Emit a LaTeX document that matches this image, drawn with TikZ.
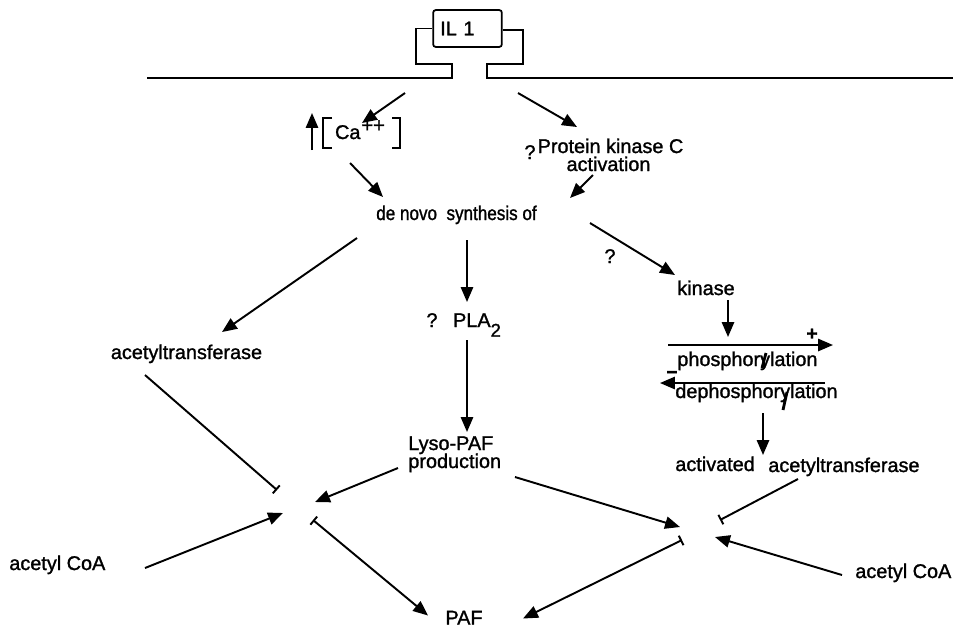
\documentclass[tikz,border=0pt]{standalone}
\usepackage{fontspec}
\setmainfont{Liberation Sans}[FakeBold=1.3]
\usetikzlibrary{arrows.meta,calc}
\begin{document}
\begin{tikzpicture}[x=0.02cm,y=-0.02cm,
  lbl/.style={inner sep=0pt, anchor=base, font=\fontsize{11.3}{13}\selectfont},
  lblw/.style={lbl, anchor=base west},
  sign/.style={lbl, text height=2pt, text depth=0pt, font=\bfseries\fontsize{11}{11}\selectfont},
  wire/.style={line width=1pt, line join=miter},
  arr/.style={line width=1.1pt, -{Triangle[length=8.5pt,width=7pt]}},
  inh/.style={line width=1.1pt, -{Bar[width=6pt,line width=1.1pt]}},
  inharr/.style={line width=1.1pt, {Bar[width=6pt,line width=1.1pt]}-{Triangle[length=8.5pt,width=7pt]}},
  slashstroke/.style={line width=1.6pt}]
\useasboundingbox (0,0) rectangle (953,627);

% receptor in the membrane
\node[draw, line width=1pt, rounded corners=1.5pt, minimum width=39.1pt, minimum height=21pt,
      inner xsep=4pt, text width=31pt, align=left, font=\fontsize{11.3}{13}\selectfont]
  (il) at (467.5,28.5) {IL 1};
\draw[wire] (147,78) -- (452,78) -- (452,64) -- (416,64) -- (416,28.5) -- (il.west |- 0,28.5);
\draw[wire] (il.east |- 0,30) -- (523,30) -- (523,64) -- (487,64) -- (487,78) -- (953,78);

% labels
\node[lbl] (ca) at (360,139) {Ca\kern0.5pt\raisebox{4pt}{\fontsize{11.5}{11}\selectfont ++}};
\node[lbl] (q1) at (530,159) {?};
\node[lbl] (pkc1) at (610.5,153) {Protein kinase C};
\node[lbl] (pkc2) at (608.5,171) {activation};
\node[lbl] (denovo) at (456.5,220) {\scalebox{0.86}[1]{de novo\ \ synthesis of}};
\node[lbl] (acl) at (186.5,359) {acetyltransferase};
\node[lbl] (q2) at (610,263) {?};
\node[lbl] (kinase) at (706,295) {kinase};
\node[lbl] (q3) at (432,327) {?};
\node[lbl] (pla) at (477,327) {PLA\raisebox{-5.5pt}{\fontsize{10.5}{11}\selectfont 2}};
\node[lblw] (lyso1) at (408,450) {Lyso-PAF};
\node[lblw] (lyso2) at (408,468) {production};
\node[lblw] (phos) at (677,366) {phosphorylation};
\node[lblw] (dephos) at (675,398) {dephosphorylation};
\node[sign] (plus) at (812,340) {+};
\node[sign] (minus) at (672,378.5) {−};
\node[lblw] (act1) at (675,471) {activated};
\node[lblw] (act2) at (768,472) {acetyltransferase};
\node[lblw] (col) at (9,570) {acetyl CoA};
\node[lblw] (cor) at (855,578) {acetyl CoA};
\node[lbl] (paf) at (464,624.5) {PAF};

% [Ca++] brackets and the rise mark
\draw[wire] ([shift={(-28,-21)}]ca.base) -- ++(-9,0) -- ++(0,30) -- ++(9,0);
\draw[wire] ([shift={(32,-21)}]ca.base) -- ++(8,0) -- ++(0,30) -- ++(-8,0);
\draw[arr] ([shift={(-48,11)}]ca.base) -- ([shift={(-48,-26)}]ca.base);

% strokes across the two labels
\draw[slashstroke] ([shift={(89,-13)}]phos.base west) -- ([shift={(85,2)}]phos.base west);
\draw[slashstroke] ([shift={(108,12)}]dephos.base west) -- ([shift={(112,-6)}]dephos.base west);

% meeting points of the two acetylation routes
\coordinate (jl) at (298,507);
\coordinate (jr) at (700,532);

% signalling arrows
\draw[arr] ([shift={(-62.5,64.5)}]il.center) -- ([shift={(2,-16)}]ca.base);
\draw[arr] ([shift={(50.5,64.5)}]il.center) -- ([shift={(-33.5,-26)}]pkc1.base);
\draw[arr] ([shift={(-10,24)}]ca.base) -- ([shift={(-73.5,-23)}]denovo.base);
\draw[arr] ([shift={(-15.5,4)}]pkc2.base) -- ([shift={(113.5,-22)}]denovo.base);
\draw[arr] ([shift={(-99.5,18)}]denovo.base) -- ([shift={(35.5,-27)}]acl.base);
\draw[arr] ([shift={(10.5,20)}]denovo.base) -- ([shift={(-10,-25)}]pla.base);
\draw[arr] ([shift={(133.5,3)}]denovo.base) -- ([shift={(-31,-20)}]kinase.base);
\draw[arr] ([shift={(-10,13)}]pla.base) -- ([shift={(59,-18)}]lyso1.base west);
\draw[arr] ([shift={(22,5)}]kinase.base) -- ([shift={(51,-29)}]phos.base west);
\draw[arr] ([shift={(-9,-21)}]phos.base west) -- ([shift={(156,-21)}]phos.base west);
\draw[arr] ([shift={(150,-15)}]dephos.base west) -- ([shift={(-15,-15)}]dephos.base west);
\draw[arr] ([shift={(88,15)}]dephos.base west) -- ([shift={(-5,-17)}]act2.base west);

% acetylation of lyso-PAF
\draw[inh] ([shift={(-41.5,16)}]acl.base) -- ([shift={(-21,-17)}]jl);
\draw[arr] ([shift={(136,-2)}]col.base west) -- ([shift={(-15,6)}]jl);
\draw[arr] ([shift={(-10,0)}]lyso2.base west) -- ([shift={(17,-5)}]jl);
\draw[inharr] ([shift={(15,13)}]jl) -- ([shift={(-36,-9)}]paf.base);
\draw[arr] ([shift={(107,9)}]lyso2.base west) -- ([shift={(-20,-5)}]jr);
\draw[inharr] ([shift={(-18,8)}]jr) -- ([shift={(59,-6)}]paf.base);
\draw[inh] ([shift={(30,7)}]act2.base west) -- ([shift={(20,-12)}]jr);
\draw[arr] ([shift={(-13,-3)}]cor.base west) -- ([shift={(15,5)}]jr);
\end{tikzpicture}
\end{document}
